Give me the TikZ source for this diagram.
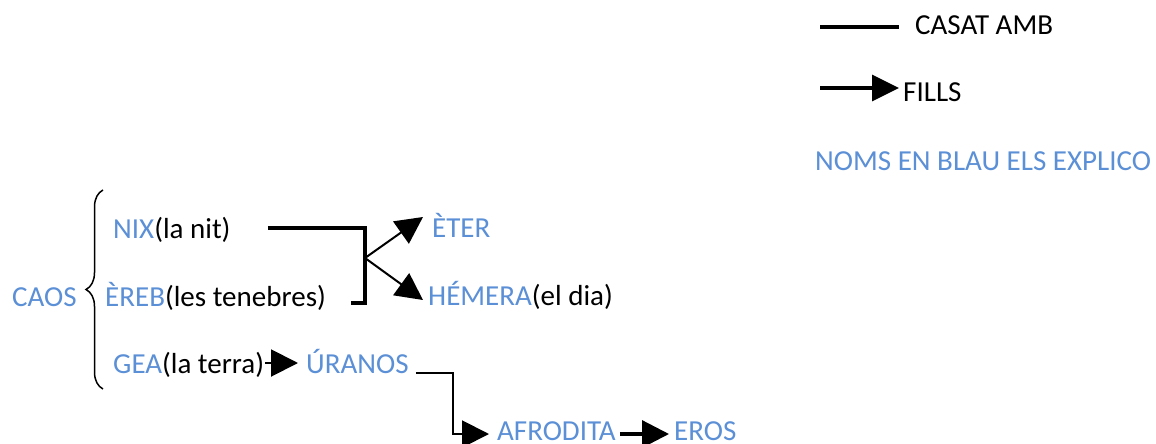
\documentclass[tikz,border=0pt]{standalone}
\usepackage{fontspec}
\setmainfont{Carlito}
\usepackage{xcolor}
\usetikzlibrary{arrows.meta, positioning, decorations.pathreplacing, calc}
\definecolor{blau}{RGB}{91,143,214}

\begin{document}
\begin{tikzpicture}[
    x=1pt, y=-1pt,
    every node/.style={inner sep=0pt, anchor=base west, font=\fontsize{29}{34}\selectfont},
    nom/.style={text=blau},
    casat/.style={line width=3.2pt},
    fletxa/.style={line width=2pt, -{Triangle[length=27pt,width=27pt]}},
    clau/.style={line width=1.5pt, decorate, decoration={brace, amplitude=17pt}}
]
\useasboundingbox (0,0) rectangle (1156,444);

% llegenda
\node (casatlbl) at (915,35) {CASAT AMB};
\node (fillslbl) at (903,101) {FILLS};
\node[nom] (blaulbl) at (815,170) {NOMS EN BLAU ELS EXPLICO};

\draw[casat] ([shift={(-95pt,8pt)}]casatlbl.base west) -- ([shift={(-16pt,8pt)}]casatlbl.base west);
\draw[casat, -{Triangle[length=27pt,width=26pt]}] ([shift={(-83pt,13pt)}]fillslbl.base west) -- ([shift={(-4pt,13pt)}]fillslbl.base west);

% genealogia
\node[nom] (caos) at (12,306) {CAOS};
\node (nix) at (113,238) {{\color{blau}NIX}(la nit)};
\node (ereb) at (105,306) {{\color{blau}ÈREB}(les tenebres)};
\node (gea) at (113,373) {{\color{blau}GEA}(la terra)};
\node[nom] (eter) at (432,237) {ÈTER};
\node (hemera) at (428,305) {{\color{blau}HÉMERA}(el dia)};
\node[nom] (uranos) at (306,373) {ÚRANOS};
\node[nom] (afrodita) at (497,440) {AFRODITA};
\node[nom] (eros) at (674,440) {EROS};

\draw[clau] (103,389) -- (103,190);

\coordinate (fork) at (365,258);
\draw[casat] ([shift={(37pt,10pt)}]nix.base east) -| ([yshift=3pt]fork |- ereb.base east) -- ([shift={(25pt,3pt)}]ereb.base east);
\draw[fletxa] (fork) -- ([shift={(-9pt,20pt)}]eter.base west);
\draw[fletxa] (fork) -- ([shift={(-5pt,5pt)}]hemera.base west);

\draw[fletxa] ([shift={(1pt,10pt)}]gea.base east) -- ([shift={(-8pt,10pt)}]uranos.base west);
\draw[fletxa] ([xshift=7pt]uranos.base east) -- ++(37,0) |- ([shift={(-8pt,6pt)}]afrodita.base west);
\draw[casat, -{Triangle[length=27pt,width=27pt]}] ([shift={(4pt,6pt)}]afrodita.base east) -- ([shift={(-5pt,6pt)}]eros.base west);

\end{tikzpicture}
\end{document}
